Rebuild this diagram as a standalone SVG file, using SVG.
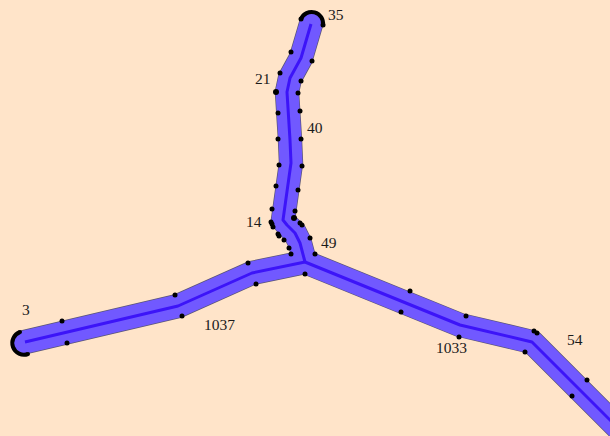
<svg xmlns="http://www.w3.org/2000/svg" width="610" height="436" viewBox="0 0 610 436">
<style>
.o{fill:none;stroke:#5a5577;stroke-width:24.4;stroke-linejoin:round;stroke-linecap:round}
.b{fill:none;stroke:#7159ff;stroke-width:23;stroke-linejoin:round;stroke-linecap:round}
.c{fill:none;stroke:#3c14f8;stroke-width:3;stroke-linejoin:round;stroke-linecap:butt}
.a{fill:none;stroke:#000;stroke-width:4}
circle{fill:#000}
text{font-family:"Liberation Serif","Times New Roman",serif;font-size:15.5px;fill:#1a1a1a}
</style>
<rect width="610" height="436" fill="#ffe4c9"/>
<g id="connectors">
<path class="o" d="M25 342L178 306L252 273L305 262"/>
<path class="o" d="M311 24L301 58L290 78L287 92L290 140L291 163L283 220L287 225L295 233L300 243L305 262"/>
<path class="o" d="M305 262L460 325L532 342L630 440"/>
<path class="b" d="M25 342L178 306L252 273L305 262"/>
<path class="b" d="M311 24L301 58L290 78L287 92L290 140L291 163L283 220L287 225L295 233L300 243L305 262"/>
<path class="b" d="M305 262L460 325L532 342L630 440"/>
<path class="c" d="M25 342L178 306L252 273L305 262"/>
<path class="c" d="M311 24L301 58L290 78L287 92L290 140L291 163L283 220L287 225L295 233L300 243L305 262"/>
<path class="c" d="M305 262L460 325L532 342L630 440"/>
</g>
<g id="node-35"><path class="a" d="M301 19A11.5 11.5 0 0 1 323 25"/><circle cx="301" cy="19" r="2.5"/><circle cx="323" cy="25" r="2.5"/><text x="328" y="20">35</text></g>
<g id="node-21"><circle cx="291" cy="52" r="2.5"/><circle cx="312" cy="61" r="2.5"/><circle cx="280" cy="73" r="2.5"/><circle cx="301" cy="81" r="2.5"/><circle cx="276" cy="92" r="3"/><circle cx="298" cy="93" r="2.5"/><text x="255" y="84">21</text></g>
<g id="node-40"><circle cx="278" cy="113" r="2.5"/><circle cx="300" cy="111" r="2.5"/><circle cx="278" cy="139" r="2.5"/><circle cx="301" cy="139" r="2.5"/><circle cx="279" cy="165" r="2.5"/><circle cx="302" cy="166" r="2.5"/><text x="307" y="133">40</text></g>
<g id="node-14"><circle cx="276" cy="186" r="2.5"/><circle cx="298" cy="190" r="2.5"/><circle cx="272" cy="209" r="2.5"/><circle cx="295" cy="211" r="2.5"/><circle cx="271" cy="222" r="2.5"/><circle cx="272" cy="224" r="2.5"/><circle cx="273" cy="227" r="2.5"/><circle cx="278" cy="234" r="2.5"/><circle cx="279" cy="236" r="2.5"/><circle cx="284" cy="240" r="2.5"/><circle cx="289" cy="248" r="2.5"/><circle cx="291" cy="254" r="2.5"/><text x="246" y="227">14</text></g>
<g id="node-49"><circle cx="294" cy="218" r="3"/><circle cx="300" cy="223" r="2.5"/><circle cx="302" cy="225" r="2.5"/><circle cx="310" cy="238" r="2.5"/><circle cx="315" cy="254" r="2.5"/><text x="321" y="248">49</text></g>
<g id="node-3"><path class="a" d="M20 332A11.5 11.5 0 0 0 28 354"/><circle cx="20" cy="332" r="2"/><circle cx="28" cy="354" r="2"/><circle cx="62" cy="321" r="2.5"/><circle cx="67" cy="343" r="2.5"/><text x="22" y="315">3</text></g>
<g id="node-1037"><circle cx="175" cy="295" r="2.5"/><circle cx="182" cy="316" r="2.5"/><circle cx="248" cy="263" r="2.5"/><circle cx="256" cy="284" r="2.5"/><circle cx="305" cy="274" r="2.5"/><text x="204" y="330">1037</text></g>
<g id="node-1033"><circle cx="410" cy="291" r="2.5"/><circle cx="401" cy="312" r="2.5"/><circle cx="466" cy="316" r="2.5"/><circle cx="459" cy="337" r="2.5"/><circle cx="534" cy="331" r="2.5"/><circle cx="537" cy="333" r="2.5"/><circle cx="525" cy="352" r="2.5"/><text x="436" y="353">1033</text></g>
<g id="node-54"><circle cx="587" cy="380" r="2.5"/><circle cx="572" cy="396" r="2.5"/><text x="567" y="345">54</text></g>
</svg>
